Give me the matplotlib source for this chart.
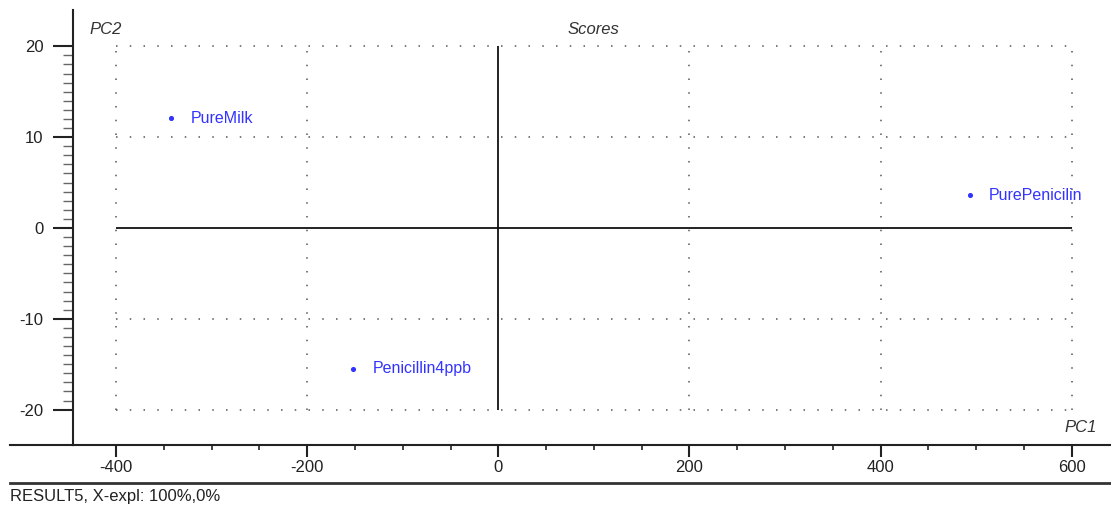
import numpy as np
import matplotlib
matplotlib.use('Agg')
from matplotlib import pyplot as plt
from matplotlib.lines import Line2D
from matplotlib.ticker import FixedLocator

plt.rcParams['font.family'] = ['Liberation Sans', 'DejaVu Sans']
plt.rcParams['axes.unicode_minus'] = False

# PCA scores (PC1, PC2)
samples = ['PureMilk', 'PurePenicilin', 'Penicillin4ppb']
pc1 = [-342, 493, -152]
pc2 = [12.1, 3.6, -15.5]

x_grid = [-400, -200, 200, 400, 600]
y_grid = [-20, -10, 10, 20]
x_ticks = [-400, -200, 0, 200, 400, 600]
y_ticks = [-20, -10, 0, 10, 20]

W, H = 1111, 509
fig = plt.figure(figsize=(W / 100, H / 100), dpi=100)
ax = fig.add_axes([73 / W, (H - 445) / H, (W - 73) / W, 435 / H])
ax.set_xlim(-445, 641)
ax.set_ylim(-23.9, 24.0)

for s in ['top', 'right']:
    ax.spines[s].set_visible(False)
for s in ['left', 'bottom']:
    ax.spines[s].set_linewidth(1.5)
    ax.spines[s].set_color('#222222')

dot = (0, (1, 8))
ax.vlines(x_grid, -20, 20, colors='#555555', linestyles=dot, lw=1.1)
ax.hlines(y_grid, -400, 600, colors='#555555', linestyles=dot, lw=1.1)
ax.hlines(0, -400, 600, colors='#111111', lw=1.3)
ax.vlines(0, -20, 20, colors='#111111', lw=1.3)

ax.scatter(pc1, pc2, s=7, color='#3333ff', zorder=3)
for name, x, y in zip(samples, pc1, pc2):
    ax.annotate(name, (x, y), xytext=(14, 0), textcoords='offset points',
                va='center', ha='left', color='#3333ff', fontsize=11.5)

ax.set_xticks(x_ticks)
ax.set_yticks(y_ticks)
# minor ticks only inside the plotted range
ax.xaxis.set_minor_locator(FixedLocator([v for v in range(-400, 601, 50) if v % 200]))
ax.yaxis.set_minor_locator(FixedLocator([v for v in range(-20, 21) if v % 10]))
ax.tick_params(axis='x', which='major', length=8.6, width=1.5, labelsize=12, pad=2, colors='#222222')
ax.tick_params(axis='x', which='minor', length=3.6, width=1.2, colors='#222222')
ax.tick_params(axis='y', which='major', length=14.4, width=1.5, labelsize=12, pad=7, colors='#222222')
ax.tick_params(axis='y', which='minor', length=7, width=1.0, colors='#666666')

ax.text(-428, 21.8, 'PC2', style='italic', fontsize=12, color='#333333', va='center', ha='left')
ax.text(626, -22.0, 'PC1', style='italic', fontsize=12, color='#333333', va='center', ha='right')
ax.text(100, 21.8, 'Scores', style='italic', fontsize=12, color='#333333', va='center', ha='center')

# axis line continues past the y-axis, plus the footer rule
fig.add_artist(Line2D([10 / W, 73 / W], [(H - 445) / H] * 2, color='#222222', lw=1.5))
fig.add_artist(Line2D([10 / W, 1.0], [(H - 483) / H] * 2, color='#333333', lw=2.0))
fig.text(10 / W, (H - 496) / H, 'RESULT5, X-expl: 100%,0%', fontsize=12, color='#222222',
         va='center', ha='left')

fig.savefig('out.png', dpi=100)
